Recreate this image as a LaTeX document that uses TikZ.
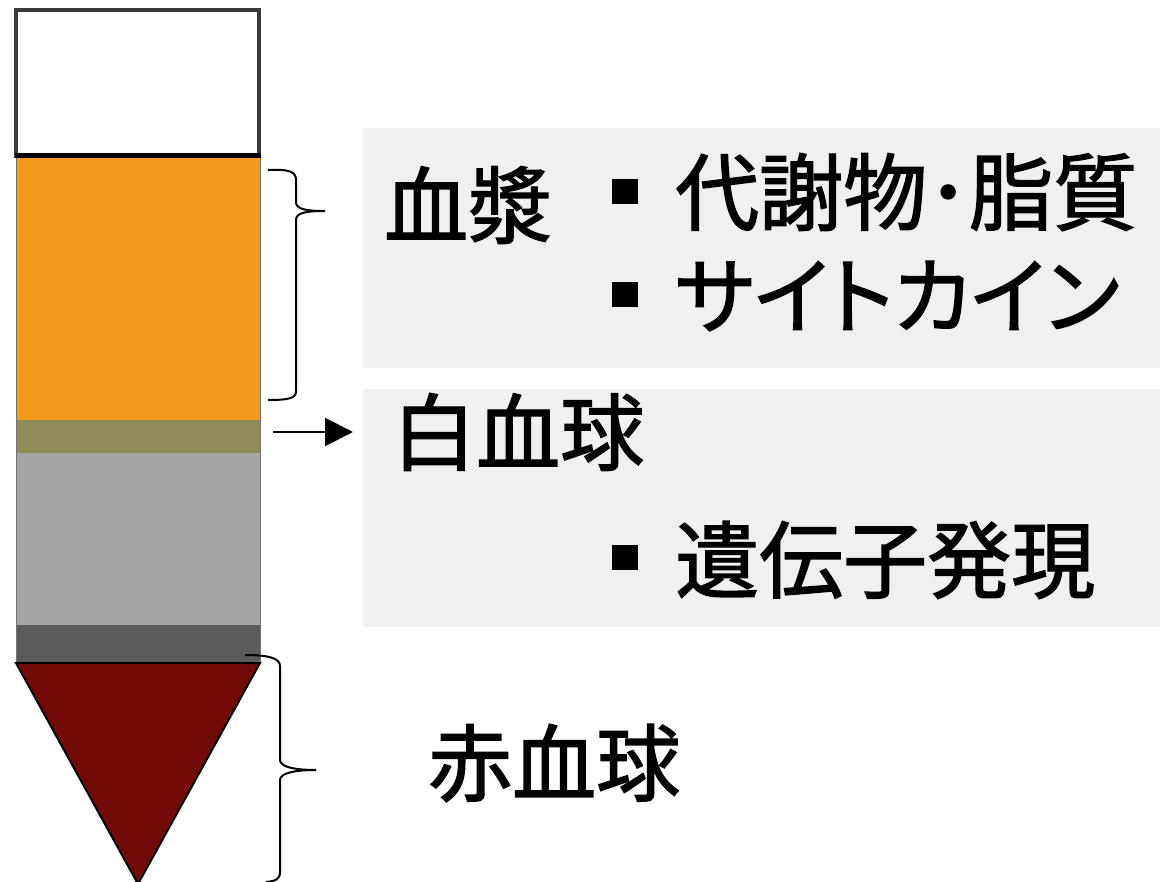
\documentclass[tikz,border=0pt]{standalone}
\usepackage{fontspec}
\setmainfont{Noto Sans CJK JP}[FakeBold=1.6]
\newfontfamily\jpp{Noto Sans CJK JP}[RawFeature=+palt,FakeBold=1.6]
\usetikzlibrary{arrows.meta}
\definecolor{plasmaor}{HTML}{F39A1B}
\definecolor{buffy}{HTML}{8F8B57}
\definecolor{lgray}{HTML}{A5A5A5}
\definecolor{dgray}{HTML}{5B5B5B}
\definecolor{rbcred}{HTML}{730A0A}
\definecolor{boxgray}{HTML}{F0F0F0}
\definecolor{rim}{HTML}{3A3A3A}
\begin{document}
\begin{tikzpicture}[x=1pt,y=-1pt,
  lbl/.style={inner sep=0pt,anchor=west,font=\fontsize{84}{100}\selectfont},
  bul/.style={fill=black,inner sep=0pt,minimum width=26pt,minimum height=25pt},
  brace/.style={line width=2pt,black}]
\useasboundingbox (0,0) rectangle (1160,882);
% text panels
\fill[boxgray] (363,128) rectangle (1160,368);
\fill[boxgray] (363,389) rectangle (1160,627);
% tube layers
\fill[plasmaor] (16,158) rectangle (260,420);
\fill[buffy] (16,420) rectangle (260,453);
\fill[lgray] (16,453) rectangle (260,625);
\fill[dgray] (16,625) rectangle (260,663);
\draw[black!55,line width=1pt] (16,158) -- (16,663) (260,158) -- (260,663);
\filldraw[fill=rbcred,draw=black,line width=2pt] (16,663) -- (260,663) -- (138,884) -- cycle;
\filldraw[fill=white,draw=rim,line width=3.5pt] (16,10) rectangle (259,156);
\draw[black,line width=5pt] (15,156) -- (261,156);
% braces
\draw[brace] (268,170) .. controls (290,169) and (296,172) .. (296,180) -- (296,202)
  .. controls (296,209) and (305,211) .. (325,211);
\draw[brace] (325,211) .. controls (305,211) and (296,213) .. (296,220) -- (296,391)
  .. controls (296,398) and (290,400) .. (268,400);
\draw[brace] (245,655) .. controls (268,655) and (280,658) .. (280,666) -- (280,760)
  .. controls (280,767) and (295,770) .. (316,770);
\draw[brace] (316,770) .. controls (295,770) and (280,773) .. (280,780) -- (280,872)
  .. controls (280,879) and (276,881) .. (266,882);
% labels
\node[lbl] (plasma) at (384,205) {血漿};
\node[bul] (b1) at (625,192) {};
\node[lbl] (met) at (675,192) {代謝物･脂質};
\node[bul] (b2) at (625,295) {};
\node[lbl] (cyt) at (675,296) {\jpp サイトカイン};
\node[lbl] (wbc) at (392,432) {白血球};
\node[bul] (b3) at (625,557) {};
\node[lbl] (gene) at (675,560) {遺伝子発現};
\node[lbl] (rbc) at (428,763) {赤血球};
% arrow
\coordinate (astart) at (273,432);
\draw[line width=2pt,-{Triangle[length=28pt,width=28pt]}] (astart) -- ([xshift=-39pt]wbc.west);
\end{tikzpicture}
\end{document}
